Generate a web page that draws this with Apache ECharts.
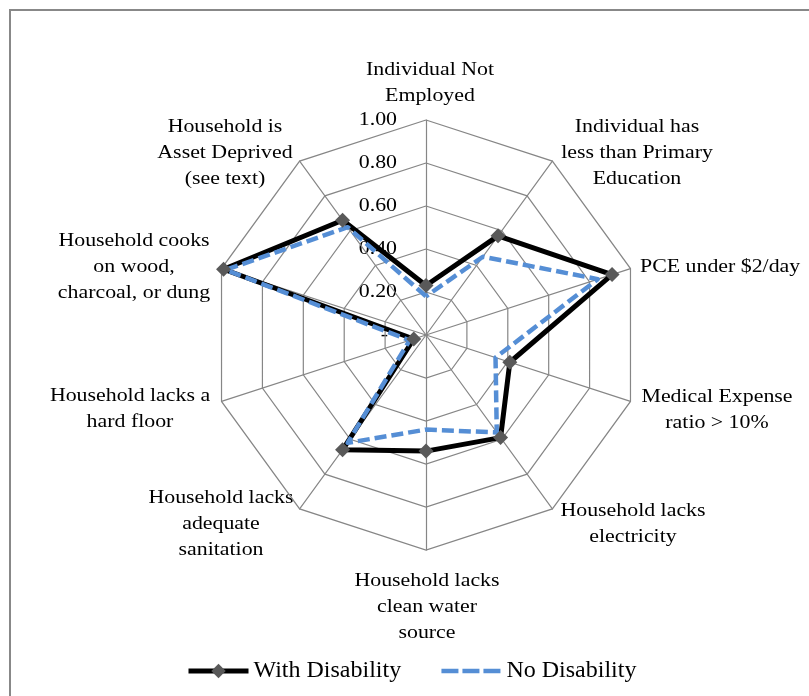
<!DOCTYPE html>
<html>
<head>
<meta charset="utf-8">
<script src="https://cdn.jsdelivr.net/npm/echarts@6/dist/echarts.min.js"></script>
<style>
html,body{margin:0;padding:0;background:#fff}
#chart{width:809px;height:696px}
</style>
</head>
<body>
<div id="chart"></div>
<script>
// axes, clockwise from the top
var axisNames = [
    'Individual Not\nEmployed',
    'Individual has\nless than Primary\nEducation',
    'PCE under $2/day',
    'Medical Expense\nratio > 10%',
    'Household lacks\nelectricity',
    'Household lacks\nclean water\nsource',
    'Household lacks\nadequate\nsanitation',
    'Household lacks a\nhard floor',
    'Household cooks\non wood,\ncharcoal, or dung',
    'Household is\nAsset Deprived\n(see text)'
];
var withDisability = [0.23, 0.57, 0.91, 0.41, 0.59, 0.54, 0.66, 0.06, 0.99, 0.66];
var noDisability   = [0.18, 0.45, 0.84, 0.34, 0.56, 0.44, 0.62, 0.08, 0.98, 0.62];
var tickValues = [0, 0.2, 0.4, 0.6, 0.8, 1.0];
var tickLabels = ['-', '0.20', '0.40', '0.60', '0.80', '1.00'];

var cx = 426, cy = 335, R = 215;
var serif = '"Liberation Serif", "Times New Roman", serif';

// where each axis name sits (x, y of the text block, alignment)
var namePos = [
    [430, 83, 'center'],
    [637, 153, 'center'],
    [640, 267, 'left'],
    [717, 410, 'center'],
    [633, 524, 'center'],
    [427, 607, 'center'],
    [221, 524, 'center'],
    [130, 409, 'center'],
    [134, 267, 'center'],
    [225, 153, 'center']
];

// echarts lays radar axes counterclockwise, flip everything after the first
function cw(arr){ return [arr[0]].concat(arr.slice(1).reverse()); }

var graphics = [{
    type: 'rect', z: -1, silent: true,
    shape: {x: 10, y: 10, width: 830, height: 720},
    style: {fill: 'none', stroke: '#888', lineWidth: 2}
}];
axisNames.forEach(function(n, i){
    graphics.push({
        type: 'text', x: namePos[i][0], y: namePos[i][1], scaleX: 1.15,
        style: {text: n, font: '19px ' + serif, fill: '#000', align: namePos[i][2], verticalAlign: 'middle', lineHeight: 26}
    });
});
tickValues.forEach(function(v, i){
    graphics.push({
        type: 'text', x: v === 0 ? 388 : 397, y: cy - v * R, scaleX: 1.15,
        style: {text: tickLabels[i], font: '19px ' + serif, fill: '#000', align: 'right', verticalAlign: 'middle'}
    });
});

var withStyle = {color: '#000', width: 5};
var noStyle = {color: '#558ED5', width: 4.5, type: [12, 5]};

var myChart = echarts.init(document.getElementById('chart'));
var option = {
    animation: false,
    radar: {
        center: [cx, cy],
        radius: R,
        startAngle: 90,
        splitNumber: 5,
        shape: 'polygon',
        indicator: cw(axisNames).map(function(n){ return {name: n, min: 0, max: 1}; }),
        axisName: {show: false},
        splitLine: {lineStyle: {color: '#868686', width: 1.2}},
        splitArea: {show: false},
        axisLine: {lineStyle: {color: '#868686', width: 1.2}}
    },
    // hidden grid only so the legend gets line-style icons
    grid: {show: false, left: 0, top: 0, width: 1, height: 1},
    xAxis: {type: 'category', show: false, data: []},
    yAxis: {type: 'value', show: false},
    legend: {
        data: [
            {name: 'With Disability', lineStyle: {width: 5}},
            {name: 'No Disability', lineStyle: {width: 4.5, type: [17, 4]}, itemStyle: {opacity: 0}}
        ],
        left: 181, top: 654,
        itemWidth: 60, itemHeight: 18, itemGap: 38,
        textStyle: {fontFamily: serif, fontSize: 24, color: '#000'}
    },
    graphic: graphics,
    series: [
        {
            type: 'radar',
            symbol: 'diamond', symbolSize: 15,
            itemStyle: {color: '#595959'},
            lineStyle: withStyle,
            data: [{name: 'With Disability', value: cw(withDisability)}]
        },
        {
            type: 'radar',
            symbol: 'none',
            itemStyle: {color: '#558ED5'},
            lineStyle: noStyle,
            data: [{name: 'No Disability', value: cw(noDisability)}]
        },
        {type: 'line', name: 'With Disability', data: [], symbol: 'diamond', symbolSize: 15,
         itemStyle: {color: '#595959'}, lineStyle: withStyle},
        {type: 'line', name: 'No Disability', data: [], symbol: 'none',
         itemStyle: {color: '#558ED5'}, lineStyle: noStyle}
    ]
};
myChart.setOption(option);
</script>
</body>
</html>
